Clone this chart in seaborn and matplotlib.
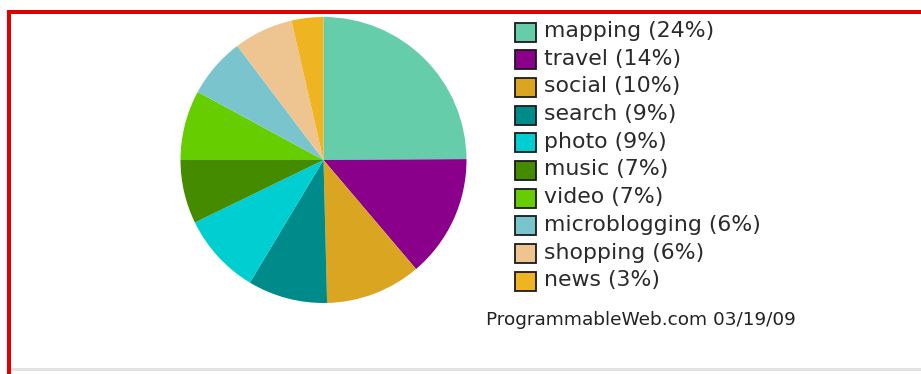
import matplotlib
matplotlib.use("Agg")
import matplotlib.pyplot as plt
from matplotlib.patches import Rectangle
import seaborn as sns

categories = ["mapping", "travel", "social", "search", "photo",
              "music", "video", "microblogging", "shopping", "news"]
shares = [24.9, 13.9, 10.8, 9.0, 9.2, 7.2, 7.9, 6.8, 6.7, 3.6]
label_pcts = [24, 14, 10, 9, 9, 7, 7, 6, 6, 3]
colors = ["#66CDAA", "#8B008B", "#DAA520", "#008B8B", "#00CED1",
          "#458B00", "#66CD00", "#7AC5CD", "#EEC591", "#EEB422"]
footer = "ProgrammableWeb.com 03/19/09"

sns.set_theme(style="white")
plt.rcParams["font.family"] = ["DejaVu Sans"]

W, H = 921, 374
fig = plt.figure(figsize=(W / 100, H / 100), dpi=100)
fig.patch.set_facecolor("white")

def fx(x):
    return x / W

def fy(y):
    return 1 - y / H

# pie
cx, cy, r = 323.5, 160, 143
ax = fig.add_axes([fx(cx - r), fy(cy + r), 2 * r / W, 2 * r / H])
palette = sns.color_palette(colors)
ax.pie(shares, colors=palette, startangle=90, counterclock=False,
       radius=1, wedgeprops=dict(linewidth=0))
ax.set_xlim(-1, 1)
ax.set_ylim(-1, 1)
ax.set_aspect("equal")
ax.axis("off")

# legend
y0, dy = 32, 27.7
for i, (cat, pct, col) in enumerate(zip(categories, label_pcts, palette)):
    yc = y0 + i * dy
    fig.add_artist(Rectangle((fx(515), fy(yc + 9.5)), 21 / W, 19 / H,
                             facecolor=col, edgecolor="#1a1a1a", linewidth=1.3,
                             transform=fig.transFigure))
    fig.text(fx(544), fy(yc - 1), f"{cat} ({pct}%)", fontsize=15.8,
             color="#2a2a2a", va="center", ha="left")

fig.text(fx(486), fy(320), footer, fontsize=13.3, color="#222222",
         va="center", ha="left")

# frame lines
fig.add_artist(Rectangle((fx(7), fy(13.5)), (W - 7) / W, 3.5 / H,
                         facecolor="#e00000", edgecolor="none",
                         transform=fig.transFigure))
fig.add_artist(Rectangle((fx(7), 0), 3.5 / W, fy(10),
                         facecolor="#e00000", edgecolor="none",
                         transform=fig.transFigure))
fig.add_artist(Rectangle((fx(10.5), fy(371)), (W - 10.5) / W, 3 / H,
                         facecolor="#e2e2e2", edgecolor="none",
                         transform=fig.transFigure))

fig.savefig("out.png", dpi=100)
